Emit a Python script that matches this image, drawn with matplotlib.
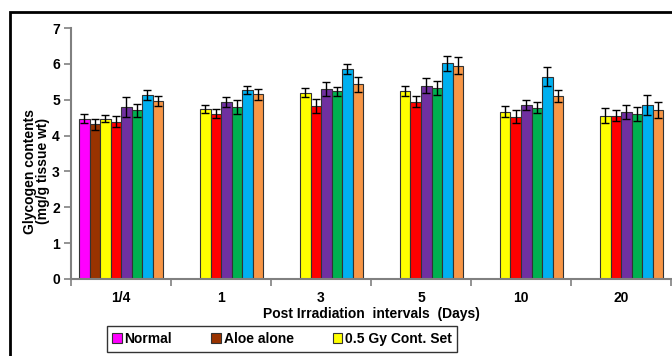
import numpy as np
import matplotlib
matplotlib.use('Agg')
import matplotlib.pyplot as plt
from matplotlib.patches import Rectangle

plt.rcParams['font.family'] = ['Liberation Sans Narrow', 'Liberation Sans', 'DejaVu Sans']
plt.rcParams['font.weight'] = 'bold'
plt.rcParams['axes.labelweight'] = 'bold'

groups = ['1/4', '1', '3', '5', '10', '20']
series = ['Normal', 'Aloe alone', '0.5 Gy Cont. Set', 'Set 4', 'Set 5', 'Set 6', 'Set 7', 'Set 8']
colors = ['#FF00FF', '#993300', '#FFFF00', '#FF0000', '#7030A0', '#00B050', '#00B0F0', '#F79646']

# rows = series, columns = groups (nan = no bar)
nan = np.nan
normal = [4.47, nan, nan, nan, nan, nan]
aloe = [4.31, nan, nan, nan, nan, nan]
cont = [4.47, 4.74, 5.20, 5.24, 4.67, 4.55]
set4 = [4.39, 4.61, 4.83, 4.95, 4.53, 4.55]
set5 = [4.80, 4.93, 5.30, 5.39, 4.86, 4.66]
set6 = [4.70, 4.80, 5.23, 5.33, 4.78, 4.61]
set7 = [5.12, 5.27, 5.86, 6.01, 5.64, 4.86]
set8 = [4.96, 5.15, 5.43, 5.95, 5.11, 4.71]

normal_err = [0.12, nan, nan, nan, nan, nan]
aloe_err = [0.16, nan, nan, nan, nan, nan]
cont_err = [0.09, 0.11, 0.12, 0.13, 0.15, 0.21]
set4_err = [0.15, 0.13, 0.20, 0.16, 0.18, 0.15]
set5_err = [0.28, 0.14, 0.20, 0.21, 0.14, 0.20]
set6_err = [0.17, 0.19, 0.13, 0.20, 0.16, 0.19]
set7_err = [0.14, 0.10, 0.13, 0.20, 0.26, 0.28]
set8_err = [0.13, 0.15, 0.21, 0.23, 0.16, 0.22]

values = [normal, aloe, cont, set4, set5, set6, set7, set8]
errors = [normal_err, aloe_err, cont_err, set4_err, set5_err, set6_err, set7_err, set8_err]

fig = plt.figure(figsize=(6.72, 3.56), dpi=100)
ax = fig.add_axes([71 / 672, 1 - 279 / 356, 600 / 672, 251 / 356])

x = np.arange(len(groups))
w = 0.105
handles = []
for i in range(len(series)):
    pos = x + (i - 3.5) * w
    b = ax.bar(pos, values[i], w, color=colors[i], edgecolor='#333333', linewidth=0.8,
               yerr=errors[i], error_kw=dict(ecolor='black', elinewidth=1, capsize=3, capthick=1),
               label=series[i], zorder=2)
    handles.append(b)

ax.set_xlim(-0.5, len(groups) - 0.5)
ax.set_ylim(0, 7)
ax.set_yticks(range(8))
ax.set_xticks(x)
ax.set_xticklabels(groups, fontsize=10)
ax.set_xticks(np.arange(-0.5, len(groups)), minor=True)
ax.tick_params(axis='x', which='major', length=0, pad=9)
ax.tick_params(axis='x', which='minor', length=5, color='#808080', width=1.2)
ax.tick_params(axis='y', length=5, color='#808080', width=1.2, labelsize=10, pad=3)
for s in ['top', 'right']:
    ax.spines[s].set_visible(False)
for s in ['left', 'bottom']:
    ax.spines[s].set_color('#808080')
    ax.spines[s].set_linewidth(1.5)

ax.set_xlabel('Post Irradiation  intervals  (Days)', fontsize=10, labelpad=1)
ax.set_ylabel('Glycogen contents\n(mg/g tissue wt)', fontsize=10, linespacing=0.95)
ax.yaxis.set_label_coords(-0.035, 0.43)

leg = fig.legend(handles[:3], series[:3], loc='center', bbox_to_anchor=(282 / 672, 1 - 339 / 356),
                 ncol=3, fontsize=10, frameon=True, fancybox=False, edgecolor='black',
                 handlelength=0.7, handleheight=0.7, handletextpad=0.2, columnspacing=2.8,
                 borderpad=0.4)
leg.get_frame().set_linewidth(1)

fig.patches.append(Rectangle((10 / 672, -0.1), 1.2, 1 - 12 / 356 + 0.1, transform=fig.transFigure,
                             fill=False, edgecolor='black', linewidth=2))

fig.savefig('out.png', dpi=100)
